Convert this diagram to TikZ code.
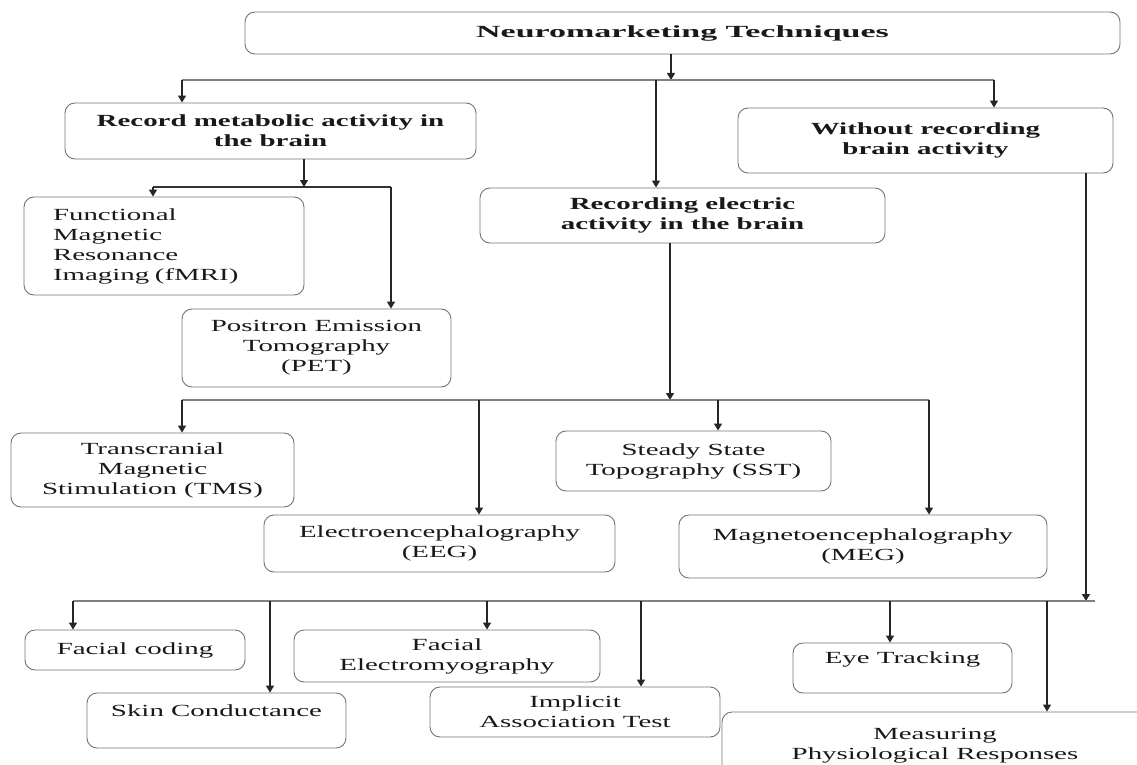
\documentclass[tikz,border=0pt]{standalone}
\usepackage{fontspec}
\setmainfont{Liberation Serif}[FakeStretch=1.7]
\newfontfamily\titlefont{Liberation Serif}[FakeStretch=2.0]
\usetikzlibrary{arrows.meta}

\begin{document}
\begin{tikzpicture}[x=1pt, y=-1pt,
    box/.style={draw=black!55, line width=0.9pt, rounded corners=10pt, align=center,
        inner sep=0pt, text=black!90, font=\fontsize{17}{20}\selectfont},
    head/.style={box, font=\fontsize{17}{20}\selectfont\bfseries},
    arr/.style={draw=black!85, line width=1.3pt, -{Triangle[length=7pt,width=8pt]}},
    bar/.style={draw=black!50, line width=1.2pt}]

    \useasboundingbox (0,0) rectangle (1137,765);

    % Main box
    \node[head, font=\fontsize{17}{20}\titlefont\bfseries, minimum width=875pt, minimum height=42pt]
        (title) at (682.5,33) {Neuromarketing Techniques};

    % Three kinds of technique
    \node[head, minimum width=411pt, minimum height=56pt] (metab) at (270.5,131)
        {Record metabolic activity in\\the brain};
    \node[head, minimum width=375pt, minimum height=65pt] (without) at (925.5,140.5)
        {Without recording\\brain activity};
    \node[head, minimum width=405pt, minimum height=55pt] (electric) at (682.5,215.5)
        {Recording electric\\activity in the brain};

    % Metabolic activity
    \node[box, align=left, text width=222pt, inner xsep=29pt, minimum height=98pt]
        (fmri) at (164,246) {Functional\\Magnetic\\Resonance\\Imaging (fMRI)};
    \node[box, minimum width=269pt, minimum height=78pt] (pet) at (316.5,348)
        {Positron Emission\\Tomography\\(PET)};

    % Electric activity
    \node[box, minimum width=283pt, minimum height=74pt] (tms) at (152.5,470)
        {Transcranial\\Magnetic\\Stimulation (TMS)};
    \node[box, minimum width=275pt, minimum height=60pt] (sst) at (693.5,461)
        {Steady State\\Topography (SST)};
    \node[box, minimum width=351pt, minimum height=57pt] (eeg) at (439.5,543.5)
        {Electroencephalography\\(EEG)};
    \node[box, minimum width=368pt, minimum height=63pt] (meg) at (863,546.5)
        {Magnetoencephalography\\(MEG)};

    % Without brain activity
    \node[box, minimum width=220pt, minimum height=40pt] (face) at (135,650) {Facial coding};
    \node[box, minimum width=259pt, minimum height=55pt] (skin) at (216.5,720.5)
        {Skin Conductance\\\mbox{}};
    \node[box, minimum width=306pt, minimum height=52pt] (emg) at (447,656)
        {Facial\\Electromyography};
    \node[box, minimum width=290pt, minimum height=50pt] (iat) at (575,712)
        {Implicit\\Association Test};
    \node[box, minimum width=219pt, minimum height=50pt] (eye) at (902.5,668)
        {Eye Tracking\\\mbox{}};
    \node[box, minimum width=426pt, minimum height=70pt] (phys) at (935,747)
        {Measuring\\Physiological Responses\\[-14pt]\mbox{}};

    % First split
    \coordinate (t1) at (671,80);
    \coordinate (l1) at (182,80);
    \coordinate (m1) at (656,80);
    \coordinate (r1) at (994,80);
    \draw[arr] (title.south -| t1) -- (t1);
    \draw[bar] (l1) -- (r1);
    \draw[arr] (l1) -- (l1 |- metab.north);
    \draw[arr] (m1) -- (m1 |- electric.north);
    \draw[arr] (r1) -- (r1 |- without.north);

    % Metabolic split
    \coordinate (t2) at (304,187);
    \coordinate (l2) at (153,187);
    \coordinate (r2) at (391,187);
    \draw[arr] (metab.south -| t2) -- (t2);
    \draw[bar, draw=black!80] (l2) -- (r2);
    \draw[arr] (l2) -- (l2 |- fmri.north);
    \draw[arr] (r2) -- (r2 |- pet.north);

    % Electric split
    \coordinate (t3) at (670,400);
    \coordinate (l3) at (182,400);
    \coordinate (a3) at (479,400);
    \coordinate (b3) at (718,400);
    \coordinate (r3) at (929,400);
    \draw[arr] (electric.south -| t3) -- (t3);
    \draw[bar] (l3) -- (r3);
    \draw[arr] (l3) -- (l3 |- tms.north);
    \draw[arr] (a3) -- (a3 |- eeg.north);
    \draw[arr] (b3) -- (b3 |- sst.north);
    \draw[arr] (r3) -- (r3 |- meg.north);

    % Split without brain activity
    \coordinate (t4) at (1086,601);
    \coordinate (l4) at (73,601);
    \coordinate (e4) at (1095,601);
    \coordinate (a4) at (270,601);
    \coordinate (b4) at (487,601);
    \coordinate (c4) at (641,601);
    \coordinate (d4) at (890,601);
    \coordinate (f4) at (1047,601);
    \draw[arr] (without.south -| t4) -- (t4);
    \draw[bar] (l4) -- (e4);
    \draw[arr] (l4) -- (l4 |- face.north);
    \draw[arr] (a4) -- (a4 |- skin.north);
    \draw[arr] (b4) -- (b4 |- emg.north);
    \draw[arr] (c4) -- (c4 |- iat.north);
    \draw[arr] (d4) -- (d4 |- eye.north);
    \draw[arr] (f4) -- (f4 |- phys.north);

\end{tikzpicture}
\end{document}
